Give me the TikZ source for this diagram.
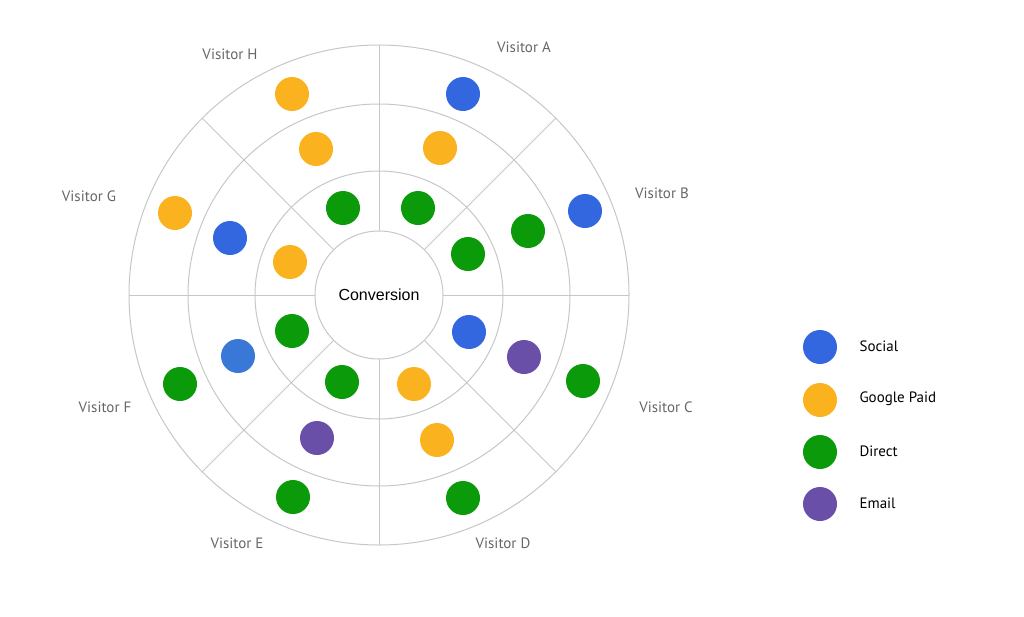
\documentclass[tikz,border=0pt]{standalone}
\usepackage{fontspec}
\usetikzlibrary{calc}
\setmainfont{Liberation Sans}
\newfontfamily\labfont{PT Sans}
\begin{document}
\begin{tikzpicture}[x=1pt,y=-1pt,
  ring/.style={draw=black!22,line width=1pt},
  dot/.style={circle,minimum size=34pt,inner sep=0pt},
  vis/.style={font=\labfont\fontsize{15}{18}\selectfont,text=black!60},
  leg/.style={font=\labfont\fontsize{15}{18}\selectfont,anchor=west}]
\definecolor{cb}{HTML}{3367E0}\definecolor{cb2}{HTML}{3A78D8}
\definecolor{co}{HTML}{FBB21F}\definecolor{cg}{HTML}{0A9A0A}\definecolor{cp}{HTML}{6A4FA8}
\useasboundingbox (0,0) rectangle (1024,616);
\coordinate (c) at (379,295);
\foreach \r in {64,124,191,250} \draw[ring] (c) circle (\r);
\foreach \a in {0,45,...,315} \draw[ring] ($(c)+(\a:64)$) -- ($(c)+(\a:250)$);
\node[font=\fontsize{16}{19}\selectfont] (conv) at (c) {Conversion};
\foreach \x/\y/\col [count=\i] in {463/94/cb,440/148/co,418/208/cg,585/211/cb,528/231/cg,468/254/cg,
583/381/cg,524/357/cp,469/332/cb,463/498/cg,437/440/co,414/384/co,293/497/cg,317/438/cp,342/382/cg,
180/384/cg,238/356/cb2,292/331/cg,175/213/co,230/238/cb,290/262/co,292/94/co,316/149/co,343/208/cg}
  \node[dot,fill=\col] (d\i) at (\x,\y) {};
\node[vis] (vH) at (230,54) {Visitor H};
\node[vis] (vA) at (524,47) {Visitor A};
\node[vis] (vB) at (662,193) {Visitor B};
\node[vis] (vG) at (89,196) {Visitor G};
\node[vis] (vF) at (105,407) {Visitor F};
\node[vis] (vC) at (666,407) {Visitor C};
\node[vis] (vE) at (237,543) {Visitor E};
\node[vis] (vD) at (503,543) {Visitor D};
\foreach \y/\col/\t [count=\i] in {347/cb/Social,400/co/Google Paid,452/cg/Direct,504/cp/Email}{
  \node[dot,fill=\col] (l\i) at (820,\y) {};
  \node[leg] (lt\i) at (856,\y-1) {\t};}
\end{tikzpicture}
\end{document}
